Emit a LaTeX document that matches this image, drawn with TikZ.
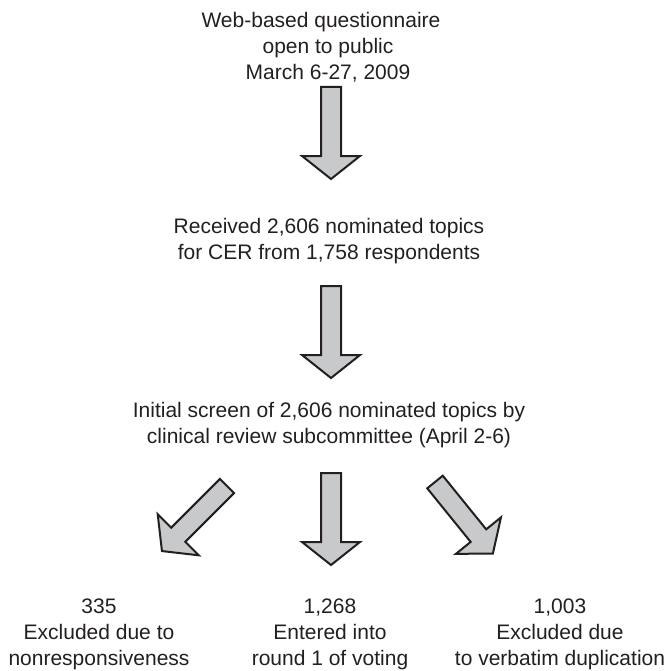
\documentclass[tikz,border=0pt]{standalone}
\usepackage{fontspec}
\setmainfont{Liberation Sans}
\definecolor{ink}{HTML}{231F20}
\definecolor{arrowfill}{HTML}{C8C9CB}
\newcommand\mytopstrut{\rule{0pt}{16bp}}
\newcommand\mybotstrut{\rule[-5bp]{0pt}{5bp}}
\begin{document}
\begin{tikzpicture}[x=1bp,y=-1bp,
  lbl/.style={align=center, inner sep=0pt, anchor=north, text=ink,
    font=\fontsize{21bp}{26bp}\selectfont},
  arrowshape/.style={draw=ink, fill=arrowfill, line width=2bp, line join=miter},
  bigarrow/.pic={\path[arrowshape] (-10,0) -- (10,0) -- (10,69) -- (29,69) -- (0,92)
     -- (-29,69) -- (-10,69) -- cycle;}]
\useasboundingbox (0,0) rectangle (669,671);

\node[lbl] (web) at (328,11) {\mytopstrut\hspace*{-14bp}Web-based questionnaire\\open to public\\March 6-27, 2009\mybotstrut};
\node[lbl] (recv) at (329,217) {\mytopstrut Received 2,606 nominated topics\\for CER from 1,758 respondents\mybotstrut};
\node[lbl] (screen) at (329,401) {\mytopstrut Initial screen of 2,606 nominated topics by\\clinical review subcommittee (April 2-6)\mybotstrut};
\node[lbl] (excla) at (99,597) {\mytopstrut 335\\Excluded due to\\nonresponsiveness\mybotstrut};
\node[lbl] (enter) at (330,597) {\mytopstrut 1,268\\Entered into\\round 1 of voting\mybotstrut};
\node[lbl] (exclb) at (560,597) {\mytopstrut 1,003\\Excluded due\\to verbatim duplication\mybotstrut};

\pic at (331,87) {bigarrow};
\pic at (331,286) {bigarrow};
\pic at (331,473) {bigarrow};
\pic[rotate=-45] at (227,486) {bigarrow};
\pic[rotate=39] at (435,482) {bigarrow};
\end{tikzpicture}
\end{document}
